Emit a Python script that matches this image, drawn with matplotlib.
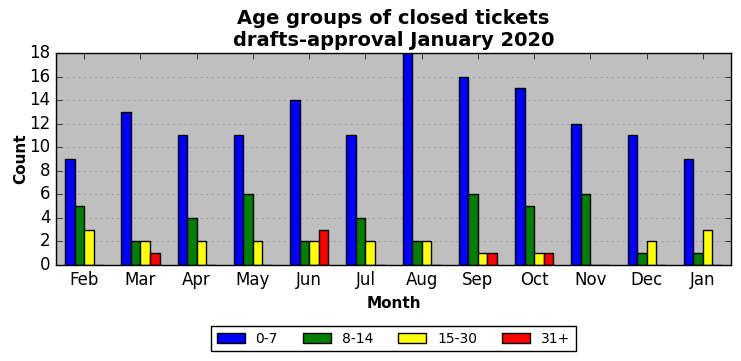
import numpy as np
import matplotlib
matplotlib.use('Agg')
import matplotlib.pyplot as plt

plt.style.use('classic')

months = ['Feb', 'Mar', 'Apr', 'May', 'Jun', 'Jul', 'Aug', 'Sep', 'Oct', 'Nov', 'Dec', 'Jan']
age_0_7 = [9, 13, 11, 11, 14, 11, 18, 16, 15, 12, 11, 9]
age_8_14 = [5, 2, 4, 6, 2, 4, 2, 6, 5, 6, 1, 1]
age_15_30 = [3, 2, 2, 2, 2, 2, 2, 1, 1, 0, 2, 3]
age_31 = [0, 1, 0, 0, 3, 0, 0, 1, 1, 0, 0, 0]

series = [('0-7', age_0_7, 'blue'), ('8-14', age_8_14, 'green'),
          ('15-30', age_15_30, 'yellow'), ('31+', age_31, 'red')]

fig = plt.figure(figsize=(7.41, 3.61), dpi=100)
fig.patch.set_facecolor('white')
ax = fig.add_axes([56/741, 1-265/361, 675/741, 212/361])
ax.set_facecolor('#bfbfbf')

x = np.arange(len(months))
w = 0.17
for k, (lab, vals, col) in enumerate(series):
    ax.bar(x + (k - 1.5) * w, vals, w, color=col, edgecolor='black', label=lab, align='center')

ax.set_xlim(-0.5, 11.5)
ax.set_ylim(0, 18)
ax.set_yticks(range(0, 19, 2))
ax.set_xticks(x)
ax.set_xticklabels(months)
ax.yaxis.grid(True, linestyle=':', color='#808080')
ax.set_axisbelow(True)
ax.tick_params(labelsize=12)
ax.set_xlabel('Month', fontweight='bold', fontsize=11)
ax.set_ylabel('Count', fontweight='bold', fontsize=11, labelpad=1)
ax.set_title('Age groups of closed tickets\ndrafts-approval January 2020', fontweight='bold', fontsize=14)

ax.legend(loc='upper center', bbox_to_anchor=(0.5, -0.255), ncol=4, fontsize=10,
          columnspacing=1.8)

fig.savefig('out.png', dpi=100, facecolor='white')
